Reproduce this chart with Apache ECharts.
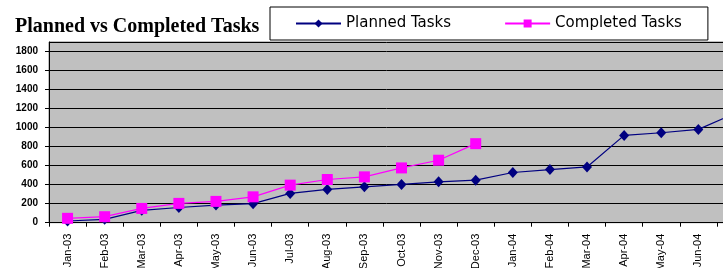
<!DOCTYPE html>
<html>
<head>
<meta charset="utf-8">
<script src="https://cdn.jsdelivr.net/npm/echarts@6/dist/echarts.min.js"></script>
<style>
html,body{margin:0;padding:0;background:#fff;}
#c{width:723px;height:268px;}
</style>
</head>
<body>
<div id="c"></div>
<script>
const categories = ['Jan-03','Feb-03','Mar-03','Apr-03','May-03','Jun-03','Jul-03','Aug-03','Sep-03','Oct-03','Nov-03','Dec-03','Jan-04','Feb-04','Mar-04','Apr-04','May-04','Jun-04','Jul-04'];
const plannedTasks = [18, 35, 130, 160, 185, 200, 308, 350, 377, 402, 430, 447, 528, 559, 586, 918, 946, 981, 1150];
const completedTasks = [46, 63, 150, 203, 224, 272, 395, 454, 482, 576, 657, 831, null, null, null, null, null, null, null];
const yTicks = {min: 0, max: 1900, interval: 200};

const chart = echarts.init(document.getElementById('c'), null, {renderer: 'canvas'});
chart.setOption({
  animation: false,
  backgroundColor: '#ffffff',
  title: {
    text: 'Planned vs Completed Tasks',
    left: 10, top: 12,
    textStyle: {fontFamily: 'Liberation Serif', fontWeight: 'bold', fontSize: 20, color: '#000'}
  },
  legend: {
    left: 270, top: 7,
    padding: [9, 26, 9, 25],
    itemGap: 53,
    itemWidth: 45, itemHeight: 10,
    borderColor: '#000', borderWidth: 1,
    backgroundColor: '#fff',
    textStyle: {fontFamily: 'DejaVu Sans', fontSize: 15, color: '#000'},
    data: ['Planned Tasks', 'Completed Tasks']
  },
  grid: {
    left: 49, top: 42, width: 705, bottom: 45.3,
    outerBoundsMode: 'none',
    containLabel: false,
    show: true, backgroundColor: '#c0c0c0', borderColor: '#808080', borderWidth: 1
  },
  xAxis: {
    type: 'category',
    data: categories,
    boundaryGap: true,
    axisLine: {lineStyle: {color: '#000', width: 1}},
    axisTick: {show: true, length: 4, interval: 0, lineStyle: {color: '#000'}},
    axisLabel: {interval: 0, rotate: 90, margin: 11, fontSize: 11, fontFamily: 'Liberation Sans', color: '#000'}
  },
  yAxis: {
    type: 'value',
    min: yTicks.min, max: yTicks.max, interval: yTicks.interval,
    axisLine: {show: true, lineStyle: {color: '#000', width: 1}},
    axisTick: {show: true, length: 4, lineStyle: {color: '#000'}},
    axisLabel: {margin: 11, fontSize: 10, fontWeight: 'bold', fontFamily: 'Liberation Sans', color: '#000', showMaxLabel: false,
      formatter: function (v) { return String(v); }},
    splitLine: {show: true, lineStyle: {color: '#000', width: 1}}
  },
  series: [
    {
      name: 'Planned Tasks', type: 'line', data: plannedTasks,
      symbol: 'diamond', symbolSize: [10, 11],
      itemStyle: {color: '#000080'},
      lineStyle: {color: '#000080', width: 1.2},
      z: 3
    },
    {
      name: 'Completed Tasks', type: 'line', data: completedTasks,
      symbol: 'rect', symbolSize: 11,
      itemStyle: {color: '#ff00ff'},
      lineStyle: {color: '#ff00ff', width: 1.2},
      z: 4
    }
  ]
});
</script>
</body>
</html>
